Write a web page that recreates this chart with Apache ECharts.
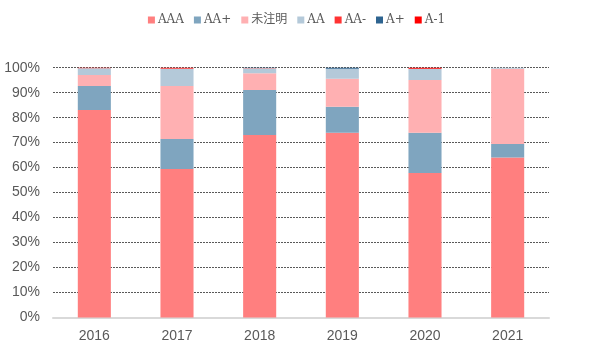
<!DOCTYPE html>
<html><head><meta charset="utf-8">
<script src="https://cdn.jsdelivr.net/npm/echarts@6/dist/echarts.min.js"></script>
<style>html,body{margin:0;padding:0;background:#fff}#c{width:593px;height:356px}</style>
</head><body><div id="c"></div>
<script>
const categories = ['2016','2017','2018','2019','2020','2021'];
const seriesNames = ['AAA','AA+','未注明','AA','AA-','A+','A-1'];
const AAA   = [83.1, 59.4, 73.1, 74.0, 57.8, 64.1];
const AAp   = [9.6, 12.1, 18.0, 10.4, 16.2, 5.4];
const unk   = [4.4, 21.2, 6.7, 11.2, 21.1, 30.1];
const AA    = [2.7, 6.9, 2.0, 4.0, 4.5, 0.4];
const AAm   = [0.2, 0.4, 0.1, 0, 0, 0];
const Ap    = [0, 0, 0.1, 0.4, 0, 0];
const A1    = [0, 0, 0, 0, 0.4, 0];
const yTicks = [0,10,20,30,40,50,60,70,80,90,100];
const colors = ['#FF7F7F','#7FA5BF','#FFB0B2','#B4C9D9','#FF3333','#2E6490','#FF0000'];
const values = [AAA, AAp, unk, AA, AAm, Ap, A1];

const chart = echarts.init(document.getElementById('c'));
chart.setOption({
  animation: false,
  color: colors,
  legend: {
    top: 9, left: 'center',
    itemWidth: 7, itemHeight: 7, itemGap: 10,
    icon: 'rect',
    textStyle: {color: '#595959', fontSize: 12, fontFamily: 'DejaVu Serif, Noto Sans CJK SC', padding:[0,0,0,-2]},
    data: seriesNames
  },
  grid: {left: 53, right: 44, top: 67.7, bottom: 38.5},
  xAxis: {
    type: 'category', data: categories,
    axisLine: {lineStyle: {color: '#D9D9D9', width: 2}},
    axisTick: {show: false},
    axisLabel: {color: '#595959', fontSize: 14, fontFamily: 'Arial, Liberation Sans', margin: 12}
  },
  yAxis: {
    type: 'value', min: 0, max: 100, interval: 10,
    axisLine: {show: false}, axisTick: {show: false},
    axisLabel: {color: '#595959', fontSize: 14, fontFamily: 'Arial, Liberation Sans', margin: 13,
      formatter: v => yTicks.includes(v) ? v + '%' : ''},
    splitLine: {lineStyle: {color: '#595959', type: [2,1], width: 1}}
  },
  series: seriesNames.map((n, i) => ({
    name: n, type: 'bar', stack: 'total', barWidth: '40%',
    data: values[i],
    itemStyle: {color: colors[i]}
  }))
});
</script></body></html>
